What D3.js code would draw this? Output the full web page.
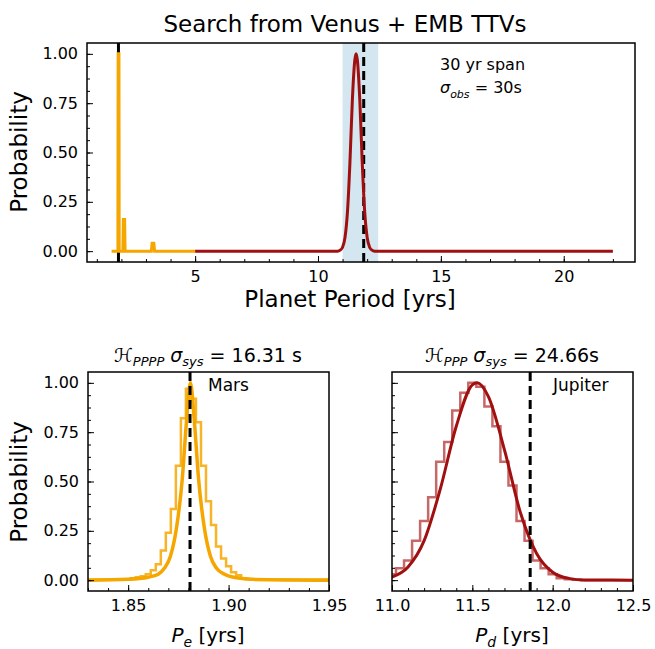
<!DOCTYPE html><html><head><meta charset="utf-8">
<script src="https://cdn.jsdelivr.net/npm/d3@7"></script>
<style>body{margin:0;background:#fff}text{font-family:"DejaVu Sans",sans-serif;fill:#000}</style></head><body>
<svg id="c" width="655" height="649"></svg>
<script>
const topOrange=[[1.6,0],[1.86,0],[1.87,1],[1.9,1],[1.91,0],[2.06,0],[2.08,0.16],[2.13,0.16],[2.15,0],[3.22,0],[3.25,0.04],[3.32,0.04],[3.35,0],[5,0]];
const topRed=[[5,0],[10.8,0],[10.9,0.005],[11.0,0.02],[11.1,0.07],[11.2,0.2],[11.3,0.45],[11.4,0.77],[11.5,0.97],[11.55,1.0],[11.6,0.97],[11.7,0.77],[11.8,0.45],[11.9,0.2],[12.0,0.07],[12.1,0.02],[12.2,0.005],[12.3,0],[22,0]];
const marsCurve=[[1.83,0],[1.85,0.005],[1.86,0.015],[1.865,0.03],[1.868,0.06],[1.871,0.12],[1.874,0.26],[1.877,0.52],[1.879,0.8],[1.881,1.0],[1.883,0.8],[1.885,0.52],[1.888,0.26],[1.891,0.12],[1.894,0.06],[1.898,0.03],[1.904,0.012],[1.912,0.004],[1.95,0]];
const marsHistX=[1.85125,1.85375,1.85625,1.85875,1.86125,1.86375,1.86625,1.86875,1.87125,1.87375,1.87625,1.87875,1.88125,1.88375,1.88625,1.88875,1.89125,1.89375,1.89625,1.89875,1.90125,1.90375,1.90625,1.90875];
const marsHistY=[0.01,0.015,0.02,0.03,0.05,0.08,0.15,0.24,0.36,0.58,0.82,0.97,0.92,0.8,0.58,0.4,0.28,0.17,0.11,0.07,0.04,0.025,0.01,0.005];
const jupCurve=[[11.0,0.016],[11.1,0.067],[11.2,0.2],[11.3,0.46],[11.4,0.78],[11.5,0.99],[11.53,1.0],[11.6,0.93],[11.7,0.66],[11.8,0.34],[11.9,0.135],[12.0,0.04],[12.1,0.009],[12.2,0.001],[12.5,0]];
const jupHistX=[10.975,11.025,11.075,11.125,11.175,11.225,11.275,11.325,11.375,11.425,11.475,11.525,11.575,11.625,11.675,11.725,11.775,11.825,11.875,11.925,11.975,12.025,12.075,12.125,12.175];
const jupHistY=[0.03,0.06,0.1,0.2,0.3,0.42,0.6,0.7,0.86,0.95,1.0,0.98,0.88,0.78,0.6,0.48,0.3,0.2,0.1,0.06,0.03,0.01,0.005,0.002,0];
const topXTicks=[5,10,15,20], yTicks=[0,0.25,0.5,0.75,1.0];
const marsTicks=[1.85,1.90,1.95], jupTicks=[11.0,11.5,12.0,12.5];
const ORANGE="#f5a700", RED="#a01010", REDH="rgba(175,40,40,0.7)";
const svg=d3.select("#c");
function panel(o){
 const g=svg.append("g");
 const x=d3.scaleLinear().domain(o.xd).range([o.l,o.r]);
 const y=d3.scaleLinear().domain([-0.055,1.055]).range([o.b,o.t]);
 const clip="cl"+Math.round(o.l);
 svg.append("clipPath").attr("id",clip).append("rect").attr("x",o.l).attr("y",o.t).attr("width",o.r-o.l).attr("height",o.b-o.t);
 const inner=g.append("g").attr("clip-path",`url(#${clip})`);
 o.draw(inner,x,y);
 const xa=d3.axisBottom(x).tickValues(o.xt).tickSize(-6).tickPadding(9).tickFormat(o.xf);
 const xm=d3.axisBottom(x).tickValues(o.xm).tickSize(-3).tickFormat("");
 const ya=d3.axisLeft(y).tickValues(yTicks).tickSize(-6).tickPadding(9).tickFormat(o.yf?d3.format(".2f"):"");
 const ym=d3.axisLeft(y).tickValues(d3.range(0,1.0001,0.0625)).tickSize(-3).tickFormat("");
 [[xa,"b"],[xm,"b"],[ya,"l"],[ym,"l"]].forEach(([a,s])=>{
  const ag=g.append("g").attr("transform",s=="b"?`translate(0,${o.b})`:`translate(${o.l},0)`).call(a);
  ag.select(".domain").remove(); ag.selectAll("line").attr("stroke","#000").attr("stroke-width",1);
  ag.selectAll("text").style("font-size","16px").style("font-family","DejaVu Sans");
 });
 g.append("rect").attr("x",o.l).attr("y",o.t).attr("width",o.r-o.l).attr("height",o.b-o.t).attr("fill","none").attr("stroke","#000").attr("stroke-width",1.5);
 return {x,y};
}
const line=(x,y,c)=>d3.line().x(d=>x(d[0])).y(d=>y(d[1])).curve(c||d3.curveLinear);
panel({l:87,r:635,t:43,b:262,xd:[0.6,22.9],xt:topXTicks,xm:d3.range(1,23,1),xf:d3.format("d"),yf:true,draw:(g,x,y)=>{
 g.append("rect").attr("x",x(11.0)).attr("width",x(12.45)-x(11.0)).attr("y",43).attr("height",219).attr("fill","#d4e6f0");
 g.append("line").attr("x1",x(1.88)).attr("x2",x(1.88)).attr("y1",43).attr("y2",262).attr("stroke","#000").attr("stroke-width",3);
 g.append("line").attr("x1",x(11.86)).attr("x2",x(11.86)).attr("y1",43).attr("y2",262).attr("stroke","#000").attr("stroke-width",3).attr("stroke-dasharray","9,5");
 g.append("path").attr("d",line(x,y)(topOrange)).attr("fill","none").attr("stroke",ORANGE).attr("stroke-width",3);
 g.append("path").attr("d",line(x,y,d3.curveMonotoneX)(topRed)).attr("fill","none").attr("stroke",RED).attr("stroke-width",3);
}});
svg.append("text").attr("x",345).attr("y",32).attr("text-anchor","middle").style("font-size","23px").text("Search from Venus + EMB TTVs");
svg.append("text").attr("x",440).attr("y",70).style("font-size","16px").text("30 yr span");
const s=svg.append("text").attr("x",440).attr("y",93).style("font-size","16px");
s.append("tspan").style("font-style","italic").text("σ");s.append("tspan").attr("dy",5).style("font-size","11px").style("font-style","italic").text("obs");s.append("tspan").attr("dy",-5).text(" = 30s");
svg.append("text").attr("x",350).attr("y",307).attr("text-anchor","middle").style("font-size","23px").text("Planet Period [yrs]");
svg.append("text").attr("transform","translate(27,152) rotate(-90)").attr("text-anchor","middle").style("font-size","23px").text("Probability");
panel({l:88,r:329,t:372,b:591,xd:[1.83,1.95],xt:marsTicks,xm:d3.range(1.83,1.9501,0.01),xf:d3.format(".2f"),yf:true,draw:(g,x,y)=>{
 const hp=[];marsHistX.forEach((v,i)=>{hp.push([v,marsHistY[i]],[v+0.0025,marsHistY[i]]);});
 const hist=[[1.83,0.003],[1.85125,0.003]].concat(hp).concat([[1.91125,0.003],[1.95,0.003]]);
 g.append("path").attr("d",line(x,y)(hist)).attr("fill","none").attr("stroke",ORANGE).attr("stroke-width",2.5).attr("opacity",0.85);
 g.append("path").attr("d",line(x,y,d3.curveMonotoneX)(marsCurve)).attr("fill","none").attr("stroke",ORANGE).attr("stroke-width",3.5);
 g.append("line").attr("x1",x(1.8808)).attr("x2",x(1.8808)).attr("y1",372).attr("y2",591).attr("stroke","#000").attr("stroke-width",3).attr("stroke-dasharray","9,5");
}});
svg.append("text").attr("x",208).attr("y",391).style("font-size","17px").text("Mars");
panel({l:392,r:633,t:372,b:591,xd:[11.0,12.5],xt:jupTicks,xm:d3.range(11.0,12.501,0.1),xf:d3.format(".1f"),yf:false,draw:(g,x,y)=>{
 const hp=[];jupHistX.forEach((v,i)=>{hp.push([v,jupHistY[i]],[v+0.05,jupHistY[i]]);});
 const hist=hp.concat([[12.225,0],[12.5,0]]);
 g.append("path").attr("d",line(x,y)(hist)).attr("fill","none").attr("stroke",REDH).attr("stroke-width",2.5);
 g.append("path").attr("d",line(x,y,d3.curveMonotoneX)(jupCurve)).attr("fill","none").attr("stroke",RED).attr("stroke-width",3);
 g.append("line").attr("x1",x(11.86)).attr("x2",x(11.86)).attr("y1",372).attr("y2",591).attr("stroke","#000").attr("stroke-width",3).attr("stroke-dasharray","9,5");
}});
svg.append("text").attr("x",553).attr("y",391).style("font-size","17px").text("Jupiter");
function title(xc,sub,val){const t=svg.append("text").attr("x",xc).attr("y",362).attr("text-anchor","middle").style("font-size","19px");
 t.append("tspan").style("font-style","italic").text("ℋ");t.append("tspan").attr("dy",4).style("font-size","13px").style("font-style","italic").text(sub);
 t.append("tspan").attr("dy",-4).style("font-style","italic").text(" σ");t.append("tspan").attr("dy",4).style("font-size","13px").style("font-style","italic").text("sys");
 t.append("tspan").attr("dy",-4).text(" = "+val);}
title(208,"PPPP","16.31 s");title(512,"PPP","24.66s");
function xl(xc,sym,sub){const t=svg.append("text").attr("x",xc).attr("y",642).attr("text-anchor","middle").style("font-size","20px");
 t.append("tspan").style("font-style","italic").text(sym);t.append("tspan").attr("dy",5).style("font-size","14px").style("font-style","italic").text(sub);t.append("tspan").attr("dy",-5).text(" [yrs]");}
xl(208,"P","e");xl(512,"P","d");
svg.append("text").attr("transform","translate(27,482) rotate(-90)").attr("text-anchor","middle").style("font-size","23px").text("Probability");
</script></body></html>
